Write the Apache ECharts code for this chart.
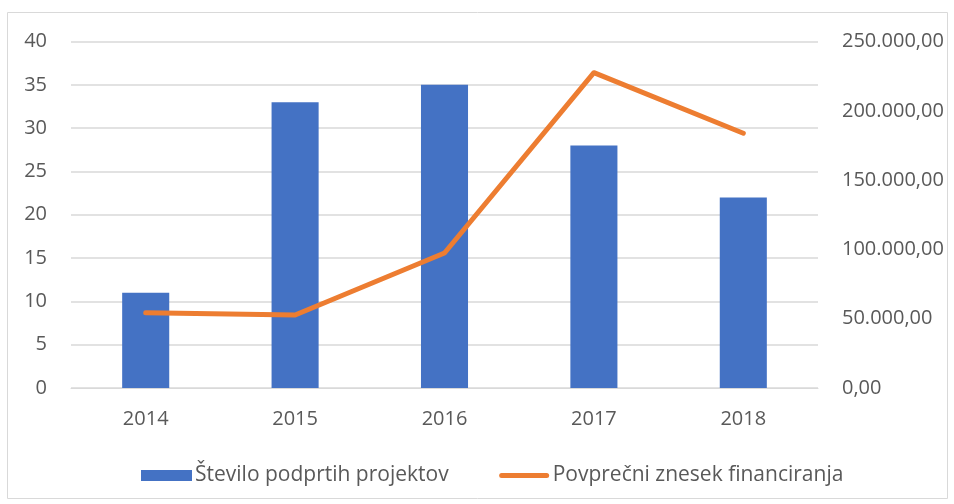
<!DOCTYPE html>
<html><head><meta charset="utf-8">
<script src="https://cdn.jsdelivr.net/npm/echarts@6/dist/echarts.min.js"></script>
<style>html,body{margin:0;padding:0;background:#fff}#c{width:954px;height:504px}</style>
</head><body><div id="c"></div>
<script>
const categories = ['2014','2015','2016','2017','2018'];
const projects = [11, 33, 35, 28, 22];
const avgFunding = [54300, 52700, 97400, 227500, 183800];
const leftTicks = [0,5,10,15,20,25,30,35,40];
const rightTicks = [0,50000,100000,150000,200000,250000];

function fmt(v){
  const s = Math.round(v).toString().replace(/\B(?=(\d{3})+(?!\d))/g,'.');
  return s + ',00';
}
const font = 'Open Sans';
const lineIcon = 'path://M0,0 M51,11 M3,3 L48,3 A2.5,2.5 0 0 1 48,8 L3,8 A2.5,2.5 0 0 1 3,3 Z';
const chart = echarts.init(document.getElementById('c'));
chart.setOption({
  animation:false,
  textStyle:{fontFamily:font},
  graphic:[{type:'rect',shape:{x:7.5,y:12.5,width:940,height:486},style:{fill:'none',stroke:'#d9d9d9',lineWidth:1},z:-1}],
  grid:{left:71,right:136,top:41.5,bottom:116},
  legend:{
    top:460,left:136,itemGap:50,itemWidth:51,itemHeight:11,
    textStyle:{color:'#595959',fontSize:21,fontFamily:font,padding:[0,0,0,-2]},
    data:[{name:'Število podprtih projektov',icon:'rect'},{name:'Povprečni znesek financiranja',icon:lineIcon}]
  },
  xAxis:{type:'category',data:categories,
    axisLine:{lineStyle:{color:'#d9d9d9',width:1}},axisTick:{show:false},
    axisLabel:{color:'#595959',fontSize:20,margin:21}},
  yAxis:[
    {type:'value',min:0,max:40,interval:5,
     axisLine:{show:false},axisTick:{show:false},
     splitLine:{lineStyle:{color:'#d9d9d9',width:1.5}},
     axisLabel:{color:'#595959',fontSize:20,margin:24}},
    {type:'value',min:0,max:250000,interval:50000,
     axisLine:{show:false},axisTick:{show:false},splitLine:{show:false},
     axisLabel:{color:'#595959',fontSize:20,margin:24,formatter:fmt}}
  ],
  series:[
    {name:'Število podprtih projektov',type:'bar',data:projects,barWidth:'31.5%',
     itemStyle:{color:'#4472c4'}},
    {name:'Povprečni znesek financiranja',type:'line',yAxisIndex:1,data:avgFunding,
     symbol:'none',lineStyle:{color:'#ed7d31',width:5,cap:'round',join:'round'},itemStyle:{color:'#ed7d31'}}
  ]
});
</script></body></html>
